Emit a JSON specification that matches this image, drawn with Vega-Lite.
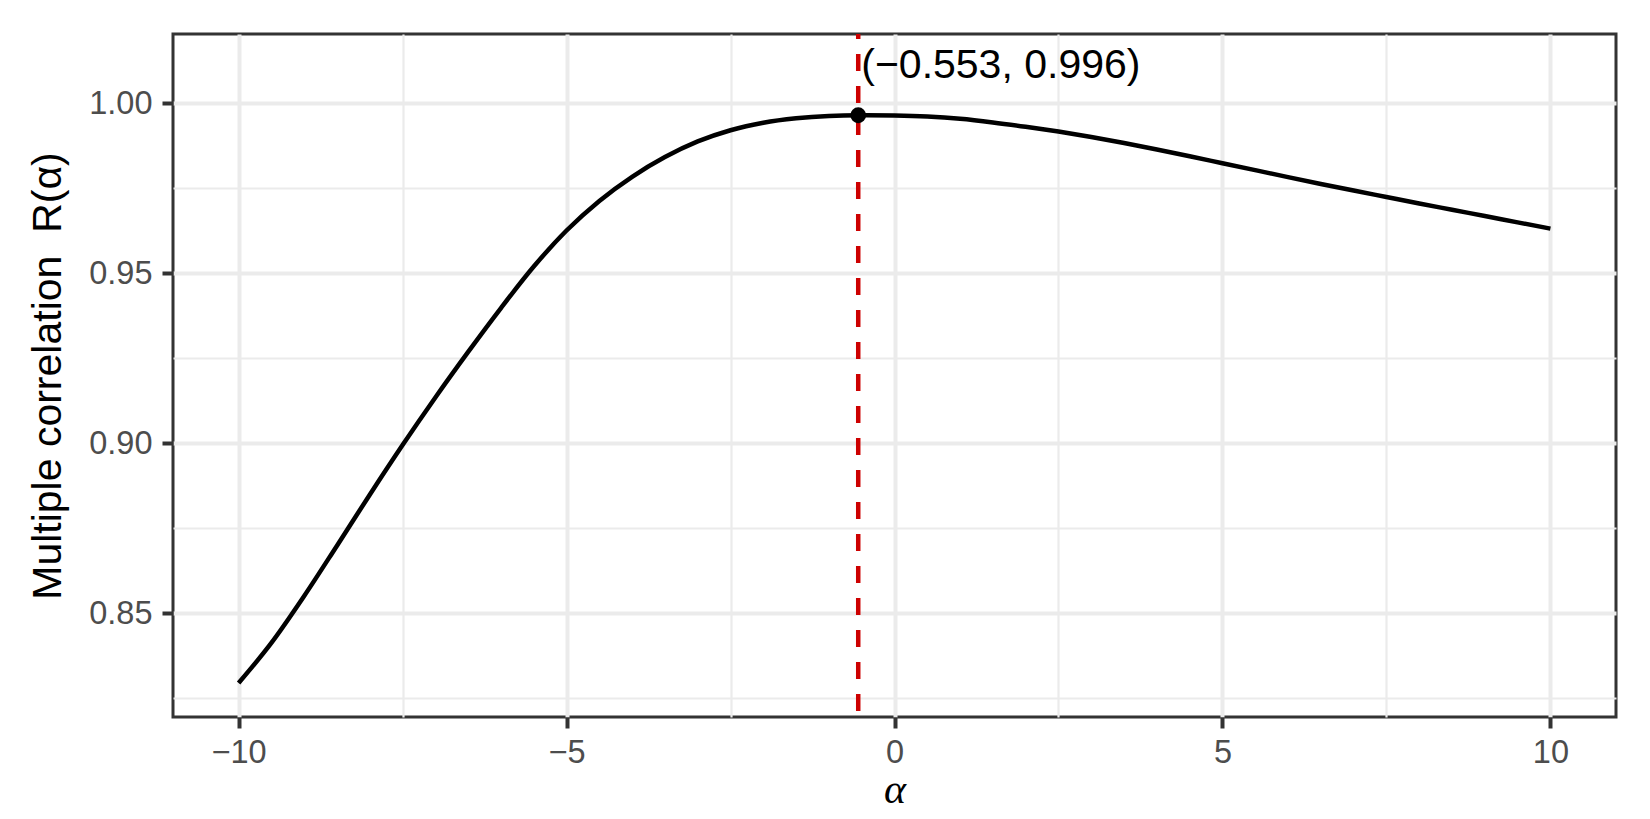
{
  "$schema": "https://vega.github.io/schema/vega-lite/v6.json",
  "width": 1443,
  "height": 683,
  "autosize": {"type": "none"},
  "padding": {"left": 173, "top": 34, "right": 34, "bottom": 102},
  "background": "white",
  "datasets": {
    "curve": [
      {"alpha": -10, "R": 0.8295},
      {"alpha": -9.5, "R": 0.8413},
      {"alpha": -9, "R": 0.8551},
      {"alpha": -8.5, "R": 0.8699},
      {"alpha": -8, "R": 0.8849},
      {"alpha": -7.5, "R": 0.8995},
      {"alpha": -7, "R": 0.9135},
      {"alpha": -6.5, "R": 0.9269},
      {"alpha": -6, "R": 0.9398},
      {"alpha": -5.5, "R": 0.9520},
      {"alpha": -5, "R": 0.9626},
      {"alpha": -4.5, "R": 0.9713},
      {"alpha": -4, "R": 0.9784},
      {"alpha": -3.5, "R": 0.9842},
      {"alpha": -3, "R": 0.9888},
      {"alpha": -2.5, "R": 0.9921},
      {"alpha": -2, "R": 0.9943},
      {"alpha": -1.5, "R": 0.9956},
      {"alpha": -1, "R": 0.9963},
      {"alpha": -0.553, "R": 0.9965},
      {"alpha": 0, "R": 0.9964},
      {"alpha": 0.5, "R": 0.9961},
      {"alpha": 1, "R": 0.99545},
      {"alpha": 1.5, "R": 0.9944},
      {"alpha": 2, "R": 0.99312},
      {"alpha": 2.5, "R": 0.9917},
      {"alpha": 3, "R": 0.9901},
      {"alpha": 3.5, "R": 0.98835},
      {"alpha": 4, "R": 0.98645},
      {"alpha": 4.5, "R": 0.98445},
      {"alpha": 5, "R": 0.9824},
      {"alpha": 5.5, "R": 0.98035},
      {"alpha": 6, "R": 0.9783},
      {"alpha": 6.5, "R": 0.9763},
      {"alpha": 7, "R": 0.97435},
      {"alpha": 7.5, "R": 0.97245},
      {"alpha": 8, "R": 0.97055},
      {"alpha": 8.5, "R": 0.9687},
      {"alpha": 9, "R": 0.96685},
      {"alpha": 9.5, "R": 0.965},
      {"alpha": 10, "R": 0.96315}
    ],
    "peak": [
      {"alpha": -0.553, "R": 0.9965, "label": "(−0.553, 0.996)"}
    ]
  },
  "encoding": {
    "x": {
      "field": "alpha",
      "type": "quantitative",
      "scale": {"domain": [-11, 11], "nice": false, "zero": false},
      "axis": {
        "title": "α",
        "values": [-10, -7.5, -5, -2.5, 0, 2.5, 5, 7.5, 10],
        "labelExpr": "datum.value % 5 === 0 ? format(datum.value, 'd') : ''",
        "gridWidth": {"condition": {"test": "datum.value % 5 === 0", "value": 4}, "value": 2.2},
        "tickOpacity": {"condition": {"test": "datum.value % 5 === 0", "value": 1}, "value": 0},
        "labelPadding": 8,
        "labelBaseline": "top",
        "titleFont": "Liberation Serif",
        "titleFontStyle": "italic",
        "titleFontSize": 42,
        "titleBaseline": "alphabetic",
        "titleY": 85
      }
    },
    "y": {
      "field": "R",
      "type": "quantitative",
      "scale": {"domain": [0.8195, 1.0204], "nice": false, "zero": false},
      "axis": {
        "title": "Multiple correlation \u00a0R(α)",
        "values": [0.825, 0.85, 0.875, 0.9, 0.925, 0.95, 0.975, 1.0],
        "labelExpr": "abs(datum.value * 20 - round(datum.value * 20)) < 1e-6 ? format(datum.value, '.2f') : ''",
        "gridWidth": {"condition": {"test": "abs(datum.value * 20 - round(datum.value * 20)) < 1e-6", "value": 4}, "value": 2.2},
        "tickOpacity": {"condition": {"test": "abs(datum.value * 20 - round(datum.value * 20)) < 1e-6", "value": 1}, "value": 0},
        "labelPadding": 10,
        "titleBaseline": "alphabetic",
        "titleX": -113
      }
    }
  },
  "layer": [
    {
      "data": {"name": "curve"},
      "mark": {"type": "line", "color": "black", "strokeWidth": 4.5, "interpolate": "monotone"}
    },
    {
      "data": {"name": "peak"},
      "mark": {"type": "rule", "color": "#CD0000", "strokeWidth": 4.5, "strokeDash": [17, 15], "strokeDashOffset": 12},
      "encoding": {"x": {"field": "alpha", "type": "quantitative"}, "y": null}
    },
    {
      "data": {"name": "peak"},
      "mark": {"type": "point", "filled": true, "color": "black", "opacity": 1, "size": 250}
    },
    {
      "data": {"name": "peak"},
      "mark": {"type": "text", "align": "left", "baseline": "alphabetic", "dx": 3, "dy": -37, "font": "Liberation Sans", "fontSize": 41, "color": "black"},
      "encoding": {"text": {"field": "label"}}
    }
  ],
  "config": {
    "view": {"stroke": "#333333", "strokeWidth": 3},
    "axis": {
      "domain": false,
      "grid": true,
      "gridColor": "#EBEBEB",
      "tickColor": "#333333",
      "tickSize": 11,
      "tickWidth": 4,
      "labelFont": "Liberation Sans",
      "labelFontSize": 32.5,
      "labelColor": "#4D4D4D",
      "titleFont": "Liberation Sans",
      "titleFontSize": 41,
      "titleFontWeight": "normal",
      "titleColor": "black"
    }
  }
}
